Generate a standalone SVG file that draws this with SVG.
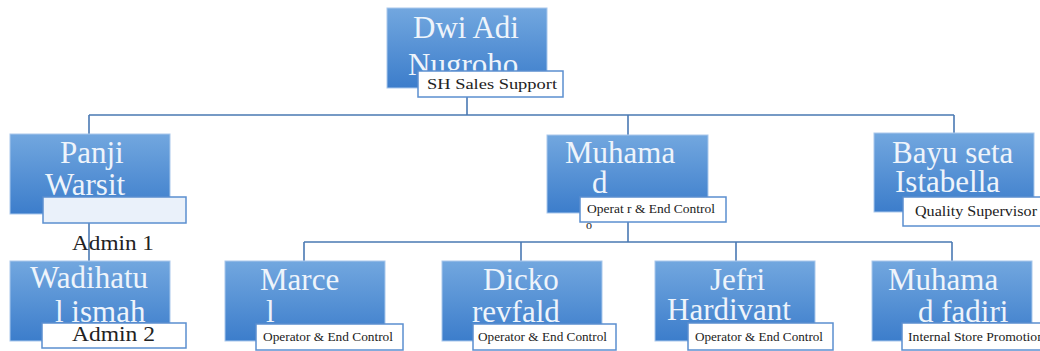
<svg xmlns="http://www.w3.org/2000/svg" width="1040" height="351" viewBox="0 0 1040 351">
<defs>
<linearGradient id="g" x1="0" y1="0" x2="0" y2="1">
<stop offset="0" stop-color="#72a7df"/>
<stop offset="1" stop-color="#3c7dcb"/>
</linearGradient>
<style>
.box{fill:url(#g);stroke:#a9c8ec;stroke-width:1}
.nm{font-family:"Liberation Serif",serif;font-size:31px;fill:#eef4fb}
.lb{fill:#ffffff;stroke:#5b8fcf;stroke-width:1.5}
.lt{font-family:"Liberation Serif",serif;fill:#222}
.ln{fill:none;stroke:#4a79b3;stroke-width:1.6}
</style>
</defs>
<rect width="1040" height="351" fill="#ffffff"/>
<g id="connectors">
<path class="ln" d="M467 97V115M89 115H954M89 115V134M628 115V135M954 115V133"/>
<path class="ln" d="M89 223V261"/>
<path class="ln" d="M628 222V242M304 242H952M304 242V261M521 242V261M736 242V261M952 242V261"/>
</g>
<g id="n-dwi">
<rect class="box" x="387" y="8" width="160" height="80"/>
<text class="nm" x="413" y="38">Dwi Adi</text>
<text class="nm" x="408" y="75">Nugroho</text>
<rect class="lb" x="418" y="71" width="145" height="26"/>
<text class="lt" x="427" y="89" font-size="15" textLength="130" lengthAdjust="spacingAndGlyphs">SH Sales Support</text>
</g>
<g id="n-panji">
<rect class="box" x="10" y="134" width="160" height="80"/>
<text class="nm" x="60" y="163">Panji</text>
<text class="nm" x="45" y="195">Warsit</text>
<rect x="43" y="197" width="143" height="26" fill="#eaf1fa" stroke="#5b8fcf" stroke-width="1.5"/>
</g>
<g id="n-muhammad">
<rect class="box" x="547" y="135" width="161" height="78"/>
<text class="nm" x="565" y="163">Muhama</text>
<text class="nm" x="592" y="193">d</text>
<rect class="lb" x="580" y="197" width="146" height="25"/>
<text class="lt" x="587" y="213" font-size="12" textLength="128" lengthAdjust="spacingAndGlyphs">Operat  r &amp; End Control</text>
<text class="lt" x="586" y="229" font-size="12">o</text>
</g>
<g id="n-bayu">
<rect class="box" x="874" y="133" width="160" height="79"/>
<text class="nm" x="892" y="163">Bayu seta</text>
<text class="nm" x="895" y="192">Istabella</text>
<rect class="lb" x="903" y="197" width="145" height="29"/>
<text class="lt" x="915" y="216" font-size="14" textLength="122" lengthAdjust="spacingAndGlyphs">Quality Supervisor</text>
</g>
<g id="n-admin1">
<text class="lt" x="72" y="250" font-size="21" textLength="82" lengthAdjust="spacingAndGlyphs">Admin 1</text>
</g>
<g id="n-wadihatul">
<rect class="box" x="10" y="261" width="160" height="80"/>
<text class="nm" x="30" y="288">Wadihatu</text>
<text class="nm" x="55" y="322">l ismah</text>
<rect class="lb" x="42" y="323" width="144" height="25"/>
<text class="lt" x="72" y="341" font-size="21" textLength="83" lengthAdjust="spacingAndGlyphs">Admin 2</text>
</g>
<g id="n-marcel">
<rect class="box" x="225" y="261" width="160" height="80"/>
<text class="nm" x="260" y="290">Marce</text>
<text class="nm" x="266" y="322">l</text>
<rect class="lb" x="256" y="324" width="147" height="26"/>
<text class="lt" x="263" y="341" font-size="12" textLength="130" lengthAdjust="spacingAndGlyphs">Operator &amp; End Control</text>
</g>
<g id="n-dicko">
<rect class="box" x="442" y="261" width="160" height="80"/>
<text class="nm" x="483" y="290">Dicko</text>
<text class="nm" x="472" y="322">revfald</text>
<rect class="lb" x="473" y="324" width="143" height="26"/>
<text class="lt" x="478" y="341" font-size="12" textLength="129" lengthAdjust="spacingAndGlyphs">Operator &amp; End Control</text>
</g>
<g id="n-jefri">
<rect class="box" x="655" y="261" width="160" height="80"/>
<text class="nm" x="710" y="290">Jefri</text>
<text class="nm" x="667" y="320">Hardivant</text>
<rect class="lb" x="688" y="323" width="145" height="27"/>
<text class="lt" x="695" y="341" font-size="12" textLength="128" lengthAdjust="spacingAndGlyphs">Operator &amp; End Control</text>
</g>
<g id="n-fadiri">
<rect class="box" x="872" y="261" width="160" height="80"/>
<text class="nm" x="888" y="290">Muhama</text>
<text class="nm" x="918" y="322">d fadiri</text>
<rect class="lb" x="902" y="323" width="146" height="27"/>
<text class="lt" x="908" y="341" font-size="12" textLength="136" lengthAdjust="spacingAndGlyphs">Internal Store Promotion</text>
</g>
</svg>
